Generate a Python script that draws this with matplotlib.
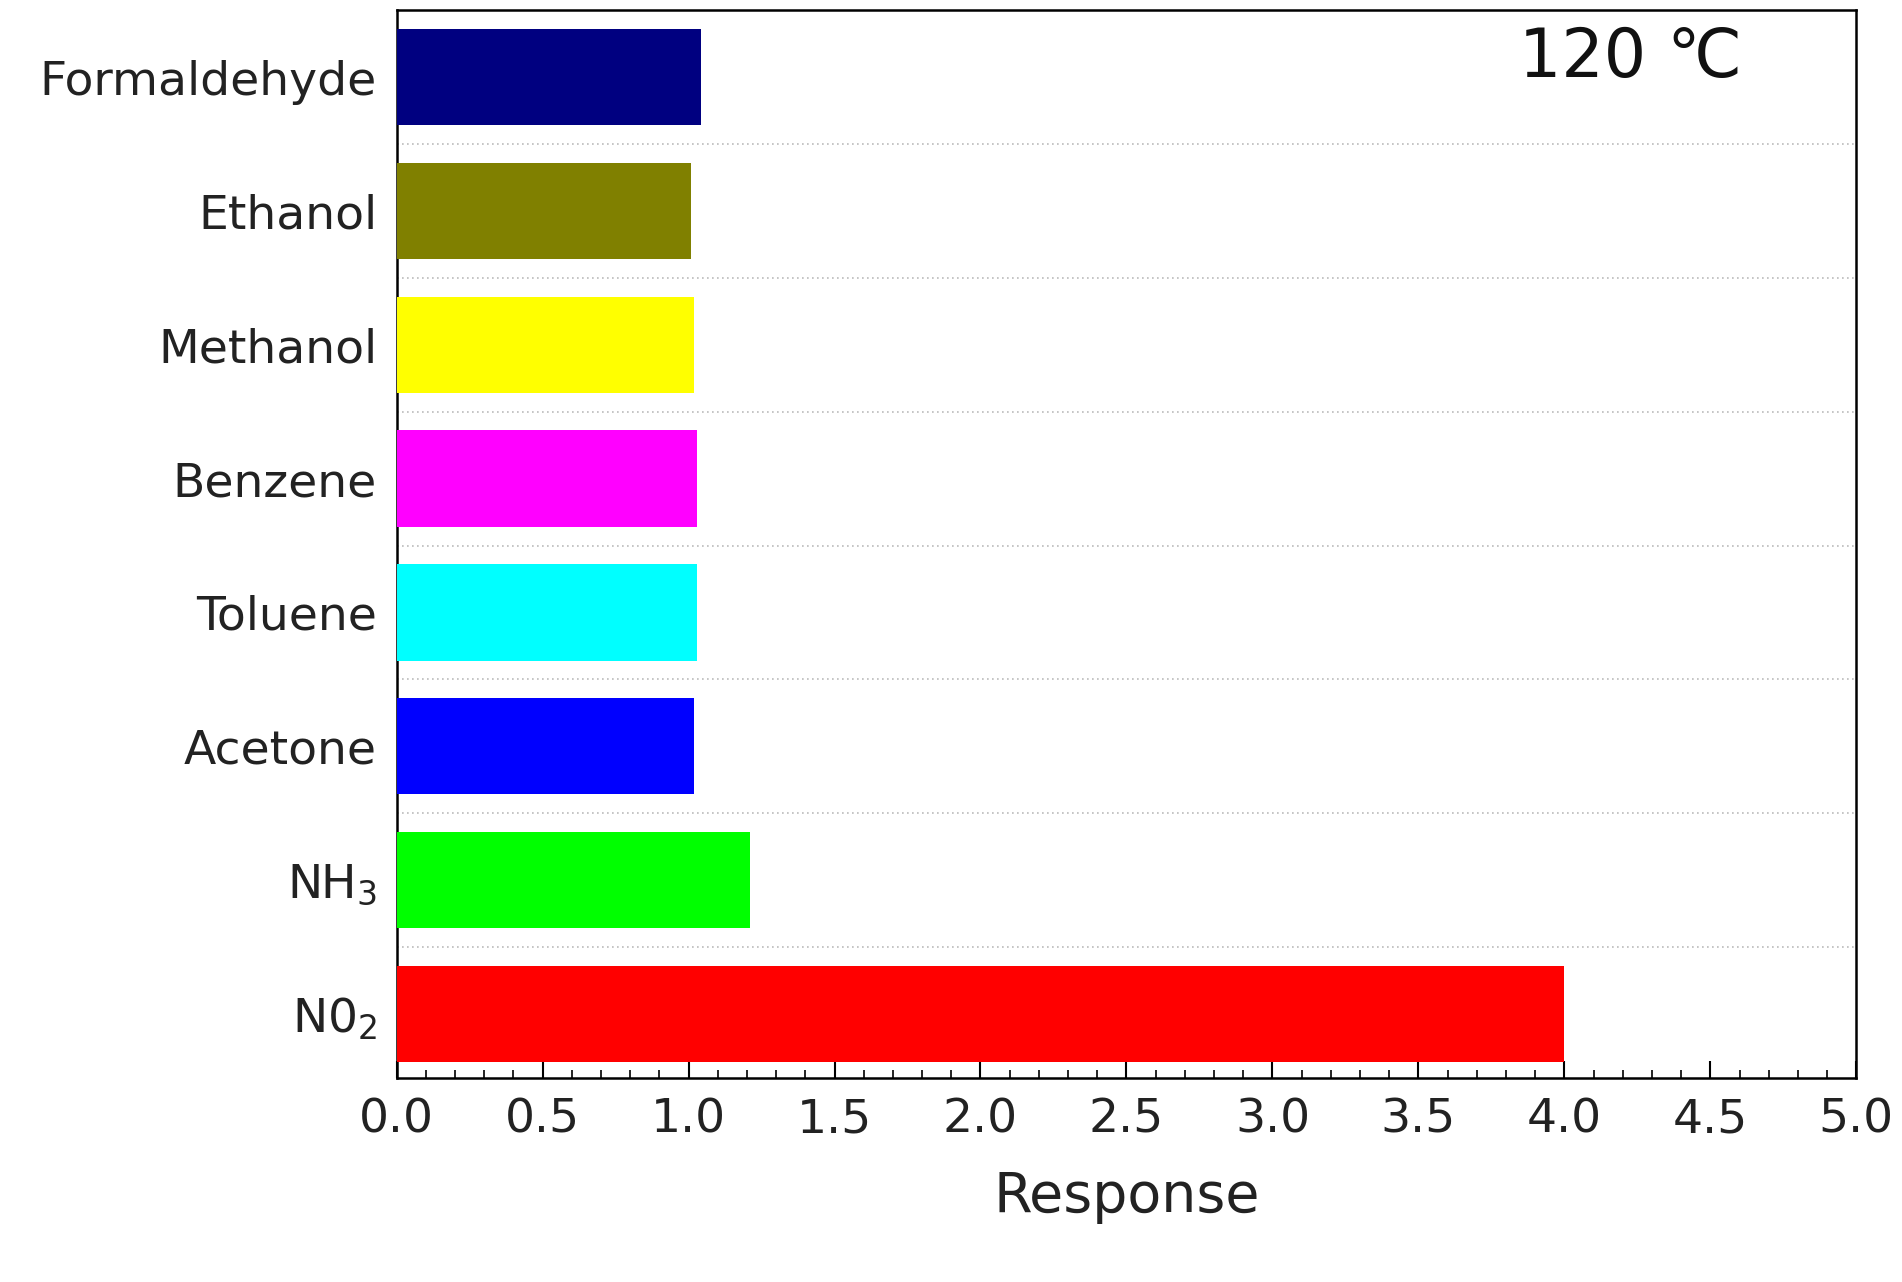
import matplotlib
matplotlib.use("Agg")
import matplotlib.pyplot as plt
from matplotlib.ticker import MultipleLocator

categories = ["N0$_2$", "NH$_3$", "Acetone", "Toluene", "Benzene", "Methanol", "Ethanol", "Formaldehyde"]
values = [4.0, 1.21, 1.02, 1.03, 1.03, 1.02, 1.01, 1.043]
colors = ["#ff0000", "#00ff00", "#0000ff", "#00ffff", "#ff00ff", "#ffff00", "#808000", "#000080"]

plt.rcParams['font.family'] = ['DejaVu Sans']
fig = plt.figure(figsize=(19.02, 12.82), dpi=100)
ax = fig.add_axes([0.2085, 0.159, 0.7675, 0.833])
y = list(range(len(categories)))
ax.barh(y, values, height=0.72, color=colors, zorder=3)
ax.set_xlim(0, 5)
ax.set_ylim(-0.48, 7.5)
ax.set_yticks(y)
ax.set_yticklabels(categories, fontsize=34, color="#222222")
for b in [i + 0.5 for i in range(7)]:
    ax.axhline(b, color="#bbbbbb", linestyle=(0, (1, 2)), linewidth=1.2, zorder=1)
ax.xaxis.set_major_locator(MultipleLocator(0.5))
ax.xaxis.set_minor_locator(MultipleLocator(0.1))
ax.tick_params(axis='x', which='major', direction='in', length=12, width=1.5, labelsize=34, pad=14, labelcolor="#222222")
ax.tick_params(axis='x', which='minor', direction='in', length=6, width=1.2)
ax.tick_params(axis='y', direction='in', length=12, width=1.5, pad=14)
for s in ax.spines.values():
    s.set_linewidth(1.8)
ax.set_xlabel("Response", fontsize=40, labelpad=20, color="#222222")
ax.text(0.845, 0.955, "120 ℃", transform=ax.transAxes, fontsize=48, ha='center', va='center', color="#111111")
fig.savefig("out.png", dpi=100)
